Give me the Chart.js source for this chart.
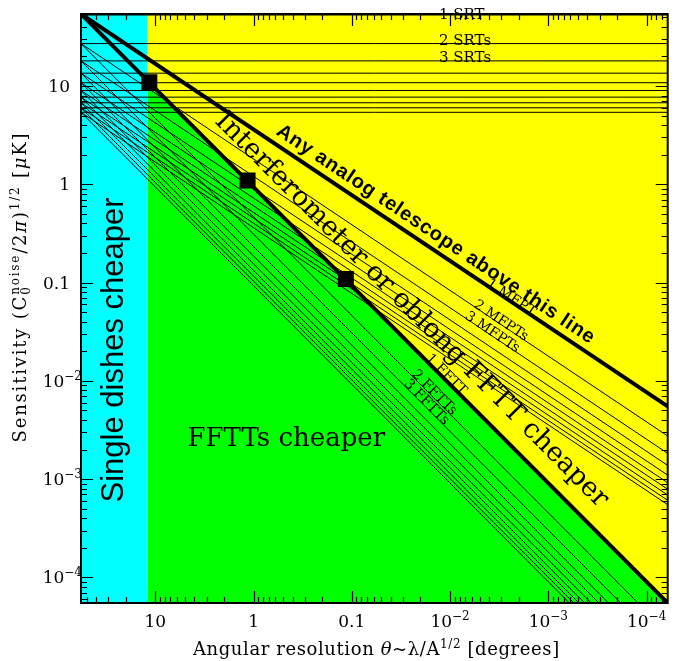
<!DOCTYPE html>
<html>
<head>
<meta charset="utf-8">
<title>Telescope sensitivity vs resolution</title>
<script src="https://cdn.jsdelivr.net/npm/chart.js@4.4.1/dist/chart.umd.min.js"></script>
<style>
  html, body { margin: 0; padding: 0; background: #fff; }
  canvas { display: block; }
</style>
</head>
<body>
<canvas id="chart" width="679" height="661"></canvas>
<script>
// axis limits: angular resolution (degrees, reversed) and sensitivity (μK)
const xLeft = 57, xRight = 6.1e-5;
const yTop = 54, yBottom = 5.5e-5;

// 1..10 SRTs: flat sensitivity levels, also where the MFPT / FFTT lines start
const srtLevels = [54, 27, 18, 13.5, 10.8, 9.0, 7.7, 6.75, 6.0, 5.4];
// 1..10 MFPTs: sensitivity reached at the right edge
const mfptRightEnds = [5.5e-3, 2.75e-3, 1.83e-3, 1.38e-3, 1.1e-3, 9.2e-4, 7.9e-4, 6.9e-4, 6.1e-4, 5.5e-4];
// 1..10 FFTTs: resolution where each line leaves through the bottom edge
const ffttBottomEnds = [6.1e-5, 1.22e-4, 1.83e-4, 2.44e-4, 3.05e-4, 3.66e-4, 4.27e-4, 4.88e-4, 5.49e-4, 6.1e-4];

// break-even markers on the FFTT boundary
const markerX = [11.5, 1.15, 0.115];
const markerY = [10.9, 1.09, 0.109];

// single dishes win at coarser resolution than this
const dishLimit = 12;
const dishLimitY = 11.4;

const tickValues = [10, 1, 0.1, 0.01, 0.001, 0.0001];
const tickBase = ["10", "1", "0.1", "10", "10", "10"];
const tickExp = ["", "", "", "\u22122", "\u22123", "\u22124"];

const SERIF = '"DejaVu Serif", serif';
const SANS = '"Liberation Sans", Arial, sans-serif';

const seg = (a, b) => [{ x: a[0], y: a[1] }, { x: b[0], y: b[1] }];
const srtLine = i => [[xLeft, srtLevels[i]], [xRight, srtLevels[i]]];
const mfptLine = i => [[xLeft, srtLevels[i]], [xRight, mfptRightEnds[i]]];
const ffttLine = i => [[xLeft, srtLevels[i]], [ffttBottomEnds[i], yBottom]];

const datasets = [];
datasets.push({
  data: markerX.map((x, i) => ({ x, y: markerY[i] })),
  showLine: false, pointStyle: 'rect', pointRadius: 11.3,
  pointBackgroundColor: '#000', pointBorderWidth: 0
});
datasets.push({ data: seg(...srtLine(0)), borderWidth: 3 });
datasets.push({ data: seg(...mfptLine(0)), borderWidth: 4 });
datasets.push({ data: seg(...ffttLine(0)), borderWidth: 4 });
for (let i = 1; i < srtLevels.length; i++) {
  datasets.push({ data: seg(...srtLine(i)), borderWidth: 1 });
  datasets.push({ data: seg(...mfptLine(i)), borderWidth: 1 });
  datasets.push({ data: seg(...ffttLine(i)), borderWidth: 1 });
}
// background regions, filled down to the bottom axis
datasets.push({ data: seg([dishLimit, dishLimitY], [xRight, yBottom]), fill: 'start', backgroundColor: '#00ff00', borderWidth: 0 });
datasets.push({ data: seg([xLeft, yTop], [dishLimit, yTop]), fill: 'start', backgroundColor: '#00ffff', borderWidth: 0 });
datasets.push({ data: seg([xLeft, yTop], [xRight, yTop]), fill: 'start', backgroundColor: '#ffff00', borderWidth: 0 });

function drawRich(ctx, parts, x, y, align) {
  let total = 0;
  for (const p of parts) {
    ctx.font = p.f;
    p.w = ctx.measureText(p.t).width;
    if (p.adv !== false) total += p.w;
  }
  let cx = align === 'center' ? x - total / 2 : align === 'right' ? x - total : x;
  ctx.textAlign = 'left';
  ctx.textBaseline = 'alphabetic';
  for (const p of parts) {
    ctx.font = p.f;
    ctx.fillText(p.t, cx, y + (p.dy || 0));
    if (p.adv !== false) cx += p.w;
  }
}

// text written along one of the lines, 'off' pixels to its upper side
function lineLabel(chart, line, atX, text, font, off, align, spacing) {
  const { ctx, scales: { x, y } } = chart;
  const x0 = x.getPixelForValue(line[0][0]), y0 = y.getPixelForValue(line[0][1]);
  const x1 = x.getPixelForValue(line[1][0]), y1 = y.getPixelForValue(line[1][1]);
  const ang = Math.atan2(y1 - y0, x1 - x0);
  const px = x.getPixelForValue(atX);
  const py = y0 + (px - x0) * (y1 - y0) / (x1 - x0);
  ctx.save();
  ctx.translate(px + off * Math.sin(ang), py - off * Math.cos(ang));
  ctx.rotate(ang);
  ctx.font = font;
  ctx.letterSpacing = spacing || '0px';
  ctx.textAlign = align;
  ctx.textBaseline = 'middle';
  ctx.fillText(text, 0, 0);
  ctx.restore();
}

const framePlugin = {
  id: 'frame',
  afterDatasetsDraw(chart) {
    const { ctx, chartArea: a, scales: { x, y } } = chart;
    ctx.save();
    ctx.strokeStyle = '#000';
    ctx.lineWidth = 1.2;
    ctx.beginPath();
    for (let e = -5; e <= 2; e++) {
      for (let m = 1; m <= 9; m++) {
        const v = m * Math.pow(10, e);
        const len = m === 1 ? 12 : 6;
        if (v > xRight && v < xLeft) {
          const px = Math.round(x.getPixelForValue(v)) + 0.5;
          ctx.moveTo(px, a.bottom); ctx.lineTo(px, a.bottom - len);
          ctx.moveTo(px, a.top); ctx.lineTo(px, a.top + len);
        }
        if (v > yBottom && v < yTop) {
          const py = Math.round(y.getPixelForValue(v)) + 0.5;
          ctx.moveTo(a.left, py); ctx.lineTo(a.left + len, py);
          ctx.moveTo(a.right, py); ctx.lineTo(a.right - len, py);
        }
      }
    }
    ctx.stroke();
    ctx.lineWidth = 2;
    ctx.strokeRect(a.left, a.top, a.right - a.left, a.bottom - a.top);
    ctx.restore();
  },
  afterDraw(chart) {
    const { ctx, chartArea: a, scales: { x, y } } = chart;
    ctx.save();
    ctx.fillStyle = '#000';
    const big = '17px ' + SERIF, small = '12px ' + SERIF;

    // tick labels
    tickValues.forEach((v, i) => {
      const px = x.getPixelForValue(v), py = y.getPixelForValue(v);
      const parts = [{ t: tickBase[i], f: big }];
      if (tickExp[i]) parts.push({ t: tickExp[i], f: small, dy: -7 });
      drawRich(ctx, parts.map(p => ({ ...p })), px, a.bottom + 24, 'center');
      drawRich(ctx, parts.map(p => ({ ...p })), tickExp[i] ? 82 : 70, py + 6, 'right');
    });

    // axis titles
    const tf = '18px ' + SERIF, ti = 'italic 18px ' + SERIF, ts = '12px ' + SERIF;
    ctx.letterSpacing = '0.6px';
    drawRich(ctx, [
      { t: 'Angular resolution ', f: tf }, { t: '\u03b8', f: ti }, { t: '~\u03bb/A', f: tf },
      { t: '1/2', f: ts, dy: -7 }, { t: ' [degrees]', f: tf }
    ], (a.left + a.right) / 2 + 2, 655, 'center');

    ctx.letterSpacing = '1.8px';
    ctx.save();
    ctx.translate(26, 287);
    ctx.rotate(-Math.PI / 2);
    drawRich(ctx, [
      { t: 'Sensitivity (C', f: tf }, { t: '0', f: ts, dy: 4, adv: false }, { t: 'noise', f: ts, dy: -7 },
      { t: '/2', f: tf }, { t: '\u03c0', f: ti }, { t: ')', f: tf }, { t: '1/2', f: ts, dy: -7 },
      { t: ' [', f: tf }, { t: '\u03bc', f: ti }, { t: 'K]', f: tf }
    ], 0, 0, 'center');
    ctx.restore();
    ctx.letterSpacing = '0px';

    // region captions
    ctx.save();
    ctx.translate(123, 350);
    ctx.rotate(-Math.PI / 2);
    ctx.font = '31px ' + SANS;
    ctx.textAlign = 'center';
    ctx.textBaseline = 'alphabetic';
    ctx.fillText('Single dishes cheaper', 0, 0);
    ctx.restore();

    ctx.font = '26px ' + SERIF;
    ctx.textAlign = 'left';
    ctx.textBaseline = 'alphabetic';
    ctx.fillText('FFTTs cheaper', x.getPixelForValue(4.7), y.getPixelForValue(2.2e-3));

    lineLabel(chart, mfptLine(0), 0.0168, 'Any analog telescope above this line', 'bold 20px ' + SANS, 14, 'center', '0.8px');
    lineLabel(chart, ffttLine(0), 0.0375, 'Interferometer or oblong FFTT cheaper', '27px ' + SERIF, 25, 'center');

    // counts next to the first few lines of each family
    const lab = '14px ' + SERIF;
    ctx.font = '15px ' + SERIF;
    ctx.textAlign = 'left';
    ctx.textBaseline = 'alphabetic';
    const sx = x.getPixelForValue(0.013);
    ctx.fillText('1 SRT', sx, y.getPixelForValue(srtLevels[0]) + 5);
    ctx.fillText('2 SRTs', sx, y.getPixelForValue(srtLevels[1]) + 1);
    ctx.fillText('3 SRTs', sx, y.getPixelForValue(srtLevels[2]) + 1);

    lineLabel(chart, mfptLine(0), 4.3e-3, '1 MFPT', lab, 3, 'left');
    lineLabel(chart, mfptLine(1), 5.8e-3, '2 MFPTs', lab, 3, 'left');
    lineLabel(chart, mfptLine(2), 7.1e-3, '3 MFPTs', lab, 3, 'left');
    lineLabel(chart, ffttLine(0), 0.018, '1 FFTT', lab, 4, 'left');
    lineLabel(chart, ffttLine(1), 0.025, '2 FFTTs', lab, 4, 'left');
    lineLabel(chart, ffttLine(2), 0.030, '3 FFTTs', lab, 4, 'left');
    ctx.restore();
  }
};

new Chart(document.getElementById('chart'), {
  type: 'line',
  data: { datasets },
  options: {
    responsive: false,
    animation: false,
    events: [],
    layout: { padding: { top: 14, right: 10, left: 0, bottom: 0 } },
    datasets: {
      line: { borderColor: '#000', pointRadius: 0, fill: false, tension: 0 }
    },
    plugins: { legend: { display: false }, tooltip: { enabled: false } },
    scales: {
      x: {
        type: 'logarithmic', reverse: true, min: xRight, max: xLeft,
        ticks: { display: false }, grid: { display: false }, border: { display: false },
        afterFit: s => { s.height = 58; }
      },
      y: {
        type: 'logarithmic', min: yBottom, max: yTop,
        ticks: { display: false }, grid: { display: false }, border: { display: false },
        afterFit: s => { s.width = 81; }
      }
    }
  },
  plugins: [framePlugin]
});
</script>
</body>
</html>
